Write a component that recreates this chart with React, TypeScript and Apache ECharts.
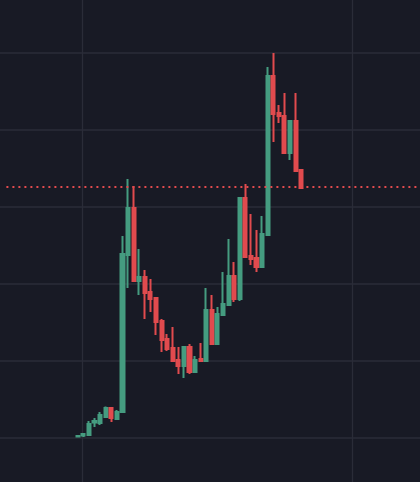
import React, { useEffect, useRef } from "react";
import * as echarts from "echarts";

// candle values (41 sessions)
const opens = [10.19, 10.32, 10.39, 12.01, 11.95, 12.73, 13.9, 12.47, 13.38, 33.77, 39.87, 30.39, 30.91, 28.96, 28.18, 25.19, 22.86, 21.69, 20.13, 19.35, 21.82, 18.57, 20.26, 20.0, 26.62, 22.21, 25.97, 27.27, 31.04, 28.05, 41.17, 33.64, 33.38, 32.21, 36.36, 57.01, 52.21, 51.82, 47.01, 51.17, 44.81];
const closes = [10.26, 10.52, 11.82, 12.21, 12.99, 13.9, 12.6, 13.38, 33.9, 39.87, 30.39, 30.91, 28.83, 28.05, 25.06, 22.73, 21.56, 20.0, 19.35, 21.82, 18.57, 20.13, 20.0, 26.62, 22.21, 26.1, 27.4, 31.04, 28.05, 41.17, 33.51, 33.25, 32.21, 36.49, 57.01, 52.08, 51.82, 47.01, 51.17, 44.68, 42.47];
const lows = [10.13, 10.13, 10.39, 11.43, 11.69, 12.73, 12.08, 12.47, 13.38, 29.48, 30.26, 28.57, 25.45, 26.36, 23.38, 21.17, 21.3, 20.0, 18.31, 17.79, 18.31, 18.57, 20.0, 20.0, 22.21, 22.21, 25.97, 27.27, 27.66, 27.79, 33.38, 32.47, 31.56, 32.21, 36.36, 48.44, 50.91, 47.01, 46.1, 44.68, 42.34];
const highs = [10.32, 10.58, 12.21, 12.6, 13.38, 14.09, 13.9, 13.64, 36.23, 43.64, 42.73, 34.55, 31.82, 30.65, 28.18, 25.45, 23.51, 24.42, 21.82, 21.82, 22.21, 20.65, 22.34, 29.48, 28.57, 27.01, 31.56, 35.84, 32.86, 41.3, 42.99, 39.09, 37.01, 38.83, 58.18, 60.0, 53.25, 54.81, 51.17, 54.81, 44.81];

const lastPrice = 42.66;
const leadingEmpty = 13;
const totalSlots = 75;
const categories = Array.from({ length: totalSlots }, (_, i) => `P${i + 1}`);
const yTicks = [0, 10, 20, 30, 40, 50, 60, 70];

const UP = "#459c80";
const DOWN = "#e14b4e";
const BG = "#181a25";
const GRID = "#2a2c38";

export default function App() {
  const ref = useRef<HTMLDivElement>(null);
  useEffect(() => {
    if (!ref.current) return;
    const chart = echarts.init(ref.current, null, { renderer: "svg" });
    const candles: any[] = categories.map((_, i) => {
      const k = i - leadingEmpty;
      if (k < 0 || k >= opens.length) return "-";
      return [opens[k], closes[k], lows[k], highs[k]];
    });
    chart.setOption({
      animation: false,
      backgroundColor: BG,
      grid: [
        { left: 2.395, right: -1.27, top: -24, bottom: -33, containLabel: false, outerBoundsMode: "none" },
        { left: -187, right: -201.5, top: -24, bottom: -33, containLabel: false, outerBoundsMode: "none" },
      ],
      xAxis: [
        {
          type: "category",
          gridIndex: 0,
          data: categories,
          boundaryGap: true,
          axisLine: { show: false },
          axisTick: { show: false },
          axisLabel: { show: false },
          splitLine: { show: false },
        },
        {
          type: "value",
          gridIndex: 1,
          min: 0,
          max: 3,
          interval: 1,
          axisLine: { show: false },
          axisTick: { show: false },
          axisLabel: { show: false },
          splitLine: { show: true, lineStyle: { color: GRID, width: 1.3 } },
        },
      ],
      yAxis: [
        {
          type: "value",
          gridIndex: 0,
          min: yTicks[0],
          max: yTicks[yTicks.length - 1],
          interval: 10,
          axisLine: { show: false },
          axisTick: { show: false },
          axisLabel: { show: false },
          splitLine: { show: false },
        },
        {
          type: "value",
          gridIndex: 1,
          min: yTicks[0],
          max: yTicks[yTicks.length - 1],
          interval: 10,
          axisLine: { show: false },
          axisTick: { show: false },
          axisLabel: { show: false },
          splitLine: { show: true, lineStyle: { color: GRID, width: 1.5 } },
        },
      ],
      series: [
        {
          type: "candlestick",
          xAxisIndex: 0,
          yAxisIndex: 0,
          data: candles,
          barWidth: 3.6,
          itemStyle: {
            color: UP,
            color0: DOWN,
            borderColor: UP,
            borderColor0: DOWN,
            borderWidth: 2,
          },
          markLine: {
            silent: true,
            symbol: "none",
            label: { show: false },
            lineStyle: { color: DOWN, type: [2, 4], width: 2, dashOffset: 2.4 },
            data: [{ yAxis: lastPrice }],
          },
        },
      ],
    });
    return () => chart.dispose();
  }, []);
  return <div ref={ref} style={{ width: 420, height: 482, position: "fixed", left: 0, top: 0 }} />;
}
